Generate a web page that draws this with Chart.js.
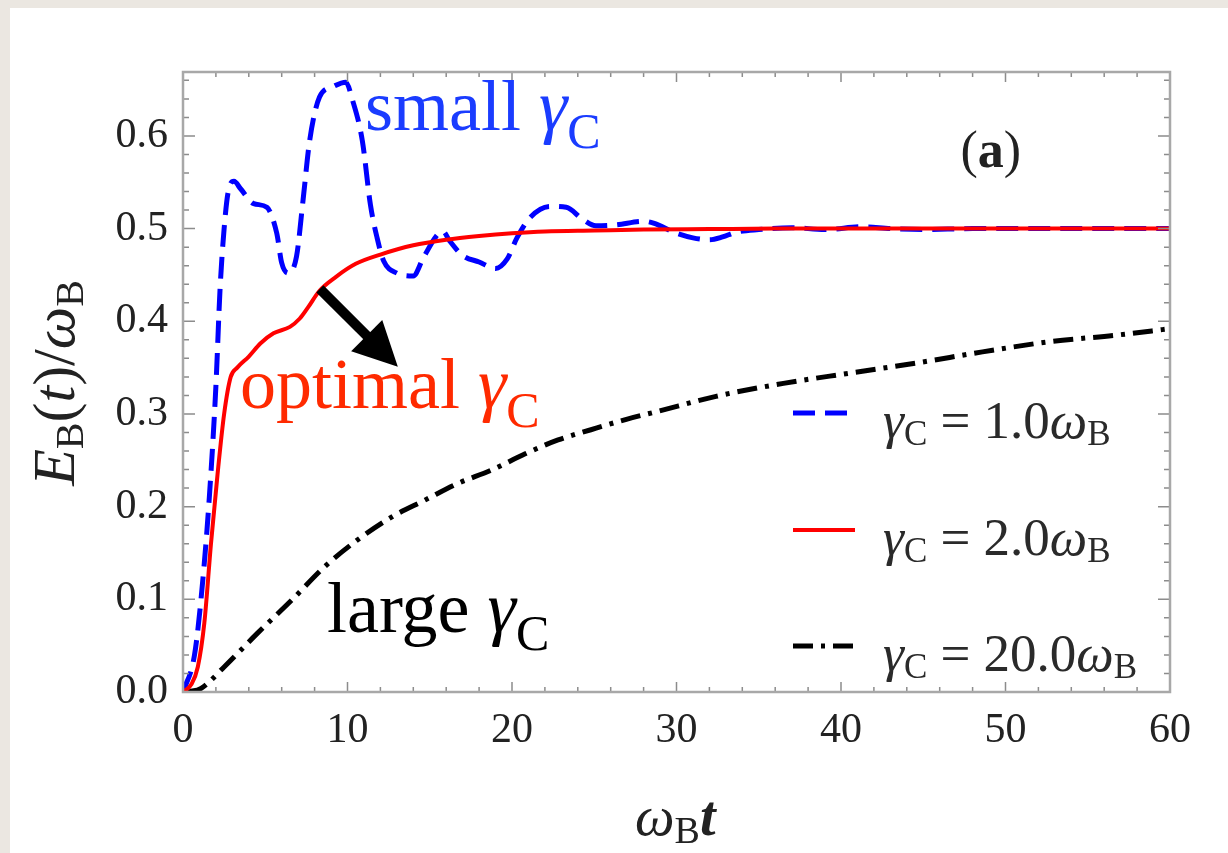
<!DOCTYPE html>
<html>
<head>
<meta charset="utf-8">
<script src="https://cdn.jsdelivr.net/npm/chart.js@4.4.0/dist/chart.umd.min.js"></script>
<style>
  html, body { margin: 0; padding: 0; background: #ebe7e1; }
  #wrap { position: relative; width: 1228px; height: 853px; }
</style>
</head>
<body>
<div id="wrap"><canvas id="chart" width="1228" height="853"></canvas></div>
<script>
// values, t in units of 1/omega_B
const tSmall = [0, 0.7, 1.2, 1.6, 2.0, 2.25, 2.5, 2.75, 3.1, 3.5, 4.3, 5.1, 5.7, 6.0, 6.4, 6.9, 7.3, 7.7, 8.3, 9.1, 9.9, 10.3, 10.9, 11.4, 11.8, 12.2, 13.0, 14.0, 14.6, 15.4, 15.8, 16.2, 17.0, 18.0, 19.0, 19.7, 20.3, 21.1, 22.3, 23.3, 24.3, 25.1, 26.3, 28.0, 28.6, 30.0, 31.0, 32.0, 32.8, 33.6, 35, 37, 39, 41.3, 43, 45, 48, 51, 54, 57, 60];
const eSmall = [0, 0.04, 0.12, 0.21, 0.33, 0.434, 0.5, 0.54, 0.551, 0.543, 0.527, 0.523, 0.495, 0.463, 0.452, 0.47, 0.531, 0.595, 0.642, 0.653, 0.658, 0.639, 0.595, 0.525, 0.49, 0.465, 0.452, 0.449, 0.468, 0.492, 0.497, 0.487, 0.471, 0.464, 0.457, 0.467, 0.49, 0.512, 0.524, 0.523, 0.51, 0.503, 0.504, 0.508, 0.506, 0.495, 0.49, 0.488, 0.491, 0.496, 0.499, 0.501, 0.499, 0.502, 0.5, 0.499, 0.5, 0.5, 0.5, 0.5, 0.5];

const tOptimal = [0, 0.5, 0.9, 1.3, 1.7, 2.1, 2.5, 2.9, 3.3, 4.0, 4.7, 5.5, 6.5, 7.1, 7.6, 8.3, 9.3, 10.5, 12.0, 14.0, 16.0, 18.0, 20.0, 22.0, 25.0, 28.0, 32, 36, 40, 45, 50, 55, 60];
const eOptimal = [0, 0.008, 0.027, 0.075, 0.16, 0.235, 0.3, 0.34, 0.35, 0.362, 0.376, 0.387, 0.394, 0.403, 0.415, 0.433, 0.448, 0.462, 0.472, 0.482, 0.488, 0.492, 0.495, 0.497, 0.498, 0.499, 0.4995, 0.5, 0.5, 0.5, 0.5, 0.5, 0.5];

const tLarge = [0.3, 1.1, 2.5, 4.5, 6.6, 8.6, 10.6, 12.7, 14.7, 16.7, 18.7, 20.8, 22.8, 24.8, 26.9, 28.9, 32.4, 36.5, 40.5, 44.6, 48.6, 52.7, 56.7, 60];
const eLarge = [0, 0.004, 0.027, 0.063, 0.099, 0.135, 0.164, 0.189, 0.207, 0.225, 0.239, 0.257, 0.272, 0.283, 0.294, 0.303, 0.319, 0.333, 0.344, 0.355, 0.367, 0.378, 0.385, 0.392];

const gammaLabels = ['1.0', '2.0', '20.0'];
const xTickStep = 10;
const yTickStep = 0.1;

const serif = '"Liberation Serif", "Times New Roman", serif';

function toPoints(ts, es) {
    return ts.map((t, i) => ({ x: t, y: es[i] }));
}

// draws text pieces one after another, returns end x
function drawRich(ctx, pieces, x, y, measureOnly) {
    pieces.forEach(p => {
        ctx.font = p.font;
        if (!measureOnly) ctx.fillText(p.text, x, y + (p.dy || 0));
        x += ctx.measureText(p.text).width;
    });
    return x;
}

const backdrop = {
    id: 'backdrop',
    beforeDraw(chart) {
        const ctx = chart.ctx;
        ctx.save();
        ctx.fillStyle = '#ebe7e1';
        ctx.fillRect(0, 0, chart.width, chart.height);
        ctx.fillStyle = '#ffffff';
        ctx.fillRect(10, 8, chart.width - 10, chart.height - 8);
        ctx.restore();
    }
};

// Mathematica style frame with inward ticks on all four sides
const frame = {
    id: 'frame',
    afterDatasetsDraw(chart) {
        const { ctx, chartArea: a, scales } = chart;
        ctx.save();
        ctx.strokeStyle = '#8c8c8c';
        ctx.lineWidth = 1.5;
        for (let i = 0; i <= 30; i++) {
            const px = scales.x.getPixelForValue(i * 2);
            const len = i % 5 === 0 ? 10 : 5;
            ctx.beginPath();
            ctx.moveTo(px, a.bottom); ctx.lineTo(px, a.bottom - len);
            ctx.moveTo(px, a.top); ctx.lineTo(px, a.top + len);
            ctx.stroke();
        }
        for (let i = 0; i <= 33; i++) {
            const py = scales.y.getPixelForValue(i * 0.02);
            const len = i % 5 === 0 ? 12 : 6;
            ctx.beginPath();
            ctx.moveTo(a.left, py); ctx.lineTo(a.left + len, py);
            ctx.moveTo(a.right, py); ctx.lineTo(a.right - len, py);
            ctx.stroke();
        }
        ctx.strokeStyle = '#a8a8a8';
        ctx.lineWidth = 2.5;
        ctx.strokeRect(a.left, a.top, a.right - a.left, a.bottom - a.top);
        ctx.restore();
    }
};

const notes = {
    id: 'notes',
    afterDraw(chart) {
        const { ctx, chartArea: a, scales } = chart;
        const X = v => scales.x.getPixelForValue(v);
        const Y = v => scales.y.getPixelForValue(v);
        ctx.save();
        ctx.textBaseline = 'alphabetic';
        ctx.textAlign = 'left';

        const big = '72px ' + serif, bigIt = 'italic 72px ' + serif, sub = '50px ' + serif;
        ctx.fillStyle = '#1a3cff';
        drawRich(ctx, [{ text: 'small ', font: big }, { text: 'γ', font: bigIt }, { text: 'C', font: sub, dy: 18 }], X(11.06), Y(0.606));
        ctx.fillStyle = '#ff2a00';
        drawRich(ctx, [{ text: 'optimal ', font: big }, { text: 'γ', font: bigIt }, { text: 'C', font: sub, dy: 19 }], X(3.46), Y(0.306));
        ctx.fillStyle = '#000000';
        drawRich(ctx, [{ text: 'large ', font: big }, { text: 'γ', font: bigIt }, { text: 'C', font: sub, dy: 18 }], X(8.75), Y(0.0647));

        // panel tag: plain parentheses, bold letter
        ctx.fillStyle = '#222';
        const tagParts = [{ text: '(', font: '52px ' + serif }, { text: 'a', font: 'bold 52px ' + serif }, { text: ')', font: '52px ' + serif }];
        const tw = drawRich(ctx, tagParts, 0, 0, true);
        drawRich(ctx, tagParts, X(49.1) - tw / 2, Y(0.585) + 17);

        // arrow pointing at the optimal curve label
        const x0 = X(8.32), y0 = Y(0.435), x1 = X(13.06), y1 = Y(0.351);
        const ang = Math.atan2(y1 - y0, x1 - x0);
        const headLen = 44, headHalf = 22;
        const bx = x1 - headLen * Math.cos(ang), by = y1 - headLen * Math.sin(ang);
        ctx.strokeStyle = '#000';
        ctx.fillStyle = '#000';
        ctx.lineWidth = 10;
        ctx.beginPath();
        ctx.moveTo(x0, y0); ctx.lineTo(bx + 2 * Math.cos(ang), by + 2 * Math.sin(ang));
        ctx.stroke();
        ctx.beginPath();
        ctx.moveTo(x1, y1);
        ctx.lineTo(bx + headHalf * Math.sin(ang), by - headHalf * Math.cos(ang));
        ctx.lineTo(bx - headHalf * Math.sin(ang), by + headHalf * Math.cos(ang));
        ctx.closePath();
        ctx.fill();

        // legend
        const rowY = [341, 458, 574];
        const lx = a.left + 610;
        ctx.textAlign = 'left';
        ctx.textBaseline = 'alphabetic';
        chart.data.datasets.forEach((ds, r) => {
            const y = a.top + rowY[r];
            ctx.strokeStyle = ds.borderColor;
            ctx.lineWidth = ds.borderWidth;
            ctx.setLineDash(ds.borderDash || []);
            ctx.beginPath();
            ctx.moveTo(lx, y); ctx.lineTo(lx + 62, y);
            ctx.stroke();
            ctx.setLineDash([]);
            ctx.fillStyle = '#2a2a2a';
            const f = '53px ' + serif, fi = 'italic 53px ' + serif, fs = '35px ' + serif;
            drawRich(ctx, [
                { text: 'γ', font: fi }, { text: 'C', font: fs, dy: 7 },
                { text: ' = ' + gammaLabels[r], font: f },
                { text: 'ω', font: fi }, { text: 'B', font: fs, dy: 7 }
            ], lx + 90, y + 25);
        });

        // axis titles
        ctx.fillStyle = '#222';
        const tf = 'italic 56px ' + serif, ts = '38px ' + serif;
        drawRich(ctx, [{ text: 'ω', font: tf }, { text: 'B', font: ts, dy: 8 }, { text: 't', font: 'bold italic 56px ' + serif }], 635, 835);

        const yParts = [
            { text: 'E', font: 'italic 60px ' + serif }, { text: 'B', font: '40px ' + serif, dy: 9 },
            { text: '(', font: '60px ' + serif }, { text: 't', font: 'italic 60px ' + serif },
            { text: ')/', font: '60px ' + serif }, { text: 'ω', font: 'italic 60px ' + serif },
            { text: 'B', font: '40px ' + serif, dy: 9 }
        ];
        const w = drawRich(ctx, yParts, 0, 0, true);
        ctx.translate(74, 383);
        ctx.rotate(-Math.PI / 2);
        drawRich(ctx, yParts, -w / 2, 0);
        ctx.restore();
    }
};

new Chart(document.getElementById('chart'), {
    type: 'line',
    data: {
        datasets: [
            { label: 'γC = 1.0ωB', data: toPoints(tSmall, eSmall), borderColor: '#0000ff', borderWidth: 5, borderDash: [22, 10], order: 1 },
            { label: 'γC = 2.0ωB', data: toPoints(tOptimal, eOptimal), borderColor: '#ff0000', borderWidth: 4, order: 0 },
            { label: 'γC = 20.0ωB', data: toPoints(tLarge, eLarge), borderColor: '#000000', borderWidth: 5, borderDash: [20, 8, 4, 8], order: 2 }
        ]
    },
    options: {
        responsive: false,
        animation: false,
        layout: { padding: { left: 0, top: 72, right: 58, bottom: 0 } },
        elements: {
            point: { radius: 0 },
            line: { fill: false, cubicInterpolationMode: 'monotone', borderCapStyle: 'butt' }
        },
        plugins: { legend: { display: false }, tooltip: { enabled: false } },
        scales: {
            x: {
                type: 'linear', min: 0, max: 60,
                grid: { display: false, drawTicks: false }, border: { display: false },
                afterFit: s => { s.height = 161; },
                ticks: { stepSize: xTickStep, includeBounds: false, padding: 14, color: '#222', font: { family: serif, size: 42 }, callback: v => String(v) }
            },
            y: {
                type: 'linear', min: 0, max: 0.669,
                grid: { display: false, drawTicks: false }, border: { display: false },
                afterFit: s => { s.width = 183; },
                ticks: { stepSize: yTickStep, includeBounds: false, padding: 15, color: '#222', font: { family: serif, size: 42 }, callback: v => v.toFixed(1) }
            }
        }
    },
    plugins: [backdrop, frame, notes]
});
</script>
</body>
</html>
